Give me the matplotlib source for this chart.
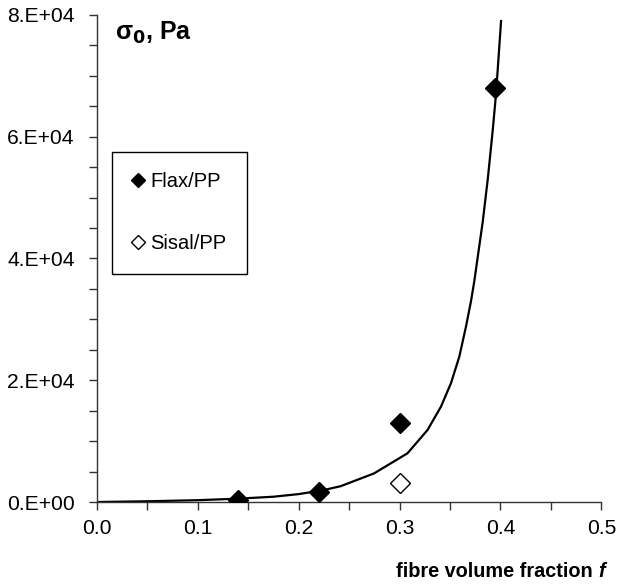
import matplotlib
matplotlib.use('Agg')
import matplotlib.pyplot as plt
from matplotlib.ticker import MultipleLocator, FuncFormatter
from matplotlib.lines import Line2D

plt.rcParams['font.family'] = ['Liberation Sans', 'DejaVu Sans']
plt.rcParams['mathtext.default'] = 'regular'

# measured points
flax_f = [0.14, 0.22, 0.30, 0.395]
flax_s = [400, 1700, 13000, 68000]
sisal_f = [0.30]
sisal_s = [3200]

# fitted curve
curve_f = [0.0, 0.05, 0.10, 0.14, 0.175, 0.20, 0.225, 0.2416, 0.2747, 0.3078, 0.3277,
           0.341, 0.3509, 0.3592, 0.3658, 0.3708, 0.374, 0.3824, 0.3874, 0.3923, 0.3956, 0.4006]
curve_s = [0, 120, 300, 550, 870, 1300, 1970, 2600, 4700, 8000, 11830,
           15660, 19500, 23870, 28800, 33000, 36200, 46000, 53000, 61000, 67000, 79000]

fig = plt.figure(figsize=(6.18, 5.84), dpi=100)
ax = fig.add_axes([0.157, 0.1404, 0.816, 0.834])

ax.plot(curve_f, curve_s, color='black', lw=1.6, zorder=2)
ax.plot(flax_f, flax_s, 'D', color='black', ms=10.5, zorder=3)
ax.plot(sisal_f, sisal_s, 'D', mfc='white', mec='black', mew=1.0, ms=10.5, zorder=3)

ax.set_xlim(0, 0.5)
ax.set_ylim(0, 80000)
ax.xaxis.set_major_locator(MultipleLocator(0.1))
ax.xaxis.set_minor_locator(MultipleLocator(0.05))
ax.yaxis.set_major_locator(MultipleLocator(20000))
ax.yaxis.set_minor_locator(MultipleLocator(5000))
ax.xaxis.set_major_formatter(FuncFormatter(lambda v, p: '%.1f' % v))
ax.yaxis.set_major_formatter(FuncFormatter(
    lambda v, p: '%d.E+04' % int(round(v / 1e4)) if v > 0 else '0.E+00'))

for s in ['top', 'right']:
    ax.spines[s].set_visible(False)
for s in ['left', 'bottom']:
    ax.spines[s].set_color('#333333')
    ax.spines[s].set_linewidth(1.0)
ax.tick_params(which='both', direction='out', length=6, width=1.0, color='#333333',
               labelsize=15.2, labelcolor='black')
ax.tick_params(axis='x', pad=6)
ax.tick_params(axis='y', pad=10)

ax.text(0.036, 0.99, r'$\sigma_\mathbf{0}$, Pa', transform=ax.transAxes, fontsize=18,
        fontweight='bold', va='top', ha='left')
fig.text(0.968, 0.022, 'fibre volume fraction ', fontsize=14.3, fontweight='bold',
         ha='right', va='center')
fig.text(0.968, 0.022, 'f', fontsize=14.3, fontweight='bold', style='italic',
         ha='left', va='center')

handles = [Line2D([], [], ls='none', marker='D', color='black', ms=7),
           Line2D([], [], ls='none', marker='D', mfc='white', mec='black', ms=7)]
leg = ax.legend(handles, ['Flax/PP', 'Sisal/PP'], loc='upper left',
                bbox_to_anchor=(112 / 618, 1 - 152 / 584), bbox_transform=fig.transFigure,
                fancybox=False, edgecolor='black', framealpha=1, fontsize=14.5,
                handlelength=0.6, handletextpad=0.3, labelspacing=2.15,
                borderpad=1.0, borderaxespad=0)
leg.get_frame().set_linewidth(1.0)

fig.savefig('out.png', dpi=100)
